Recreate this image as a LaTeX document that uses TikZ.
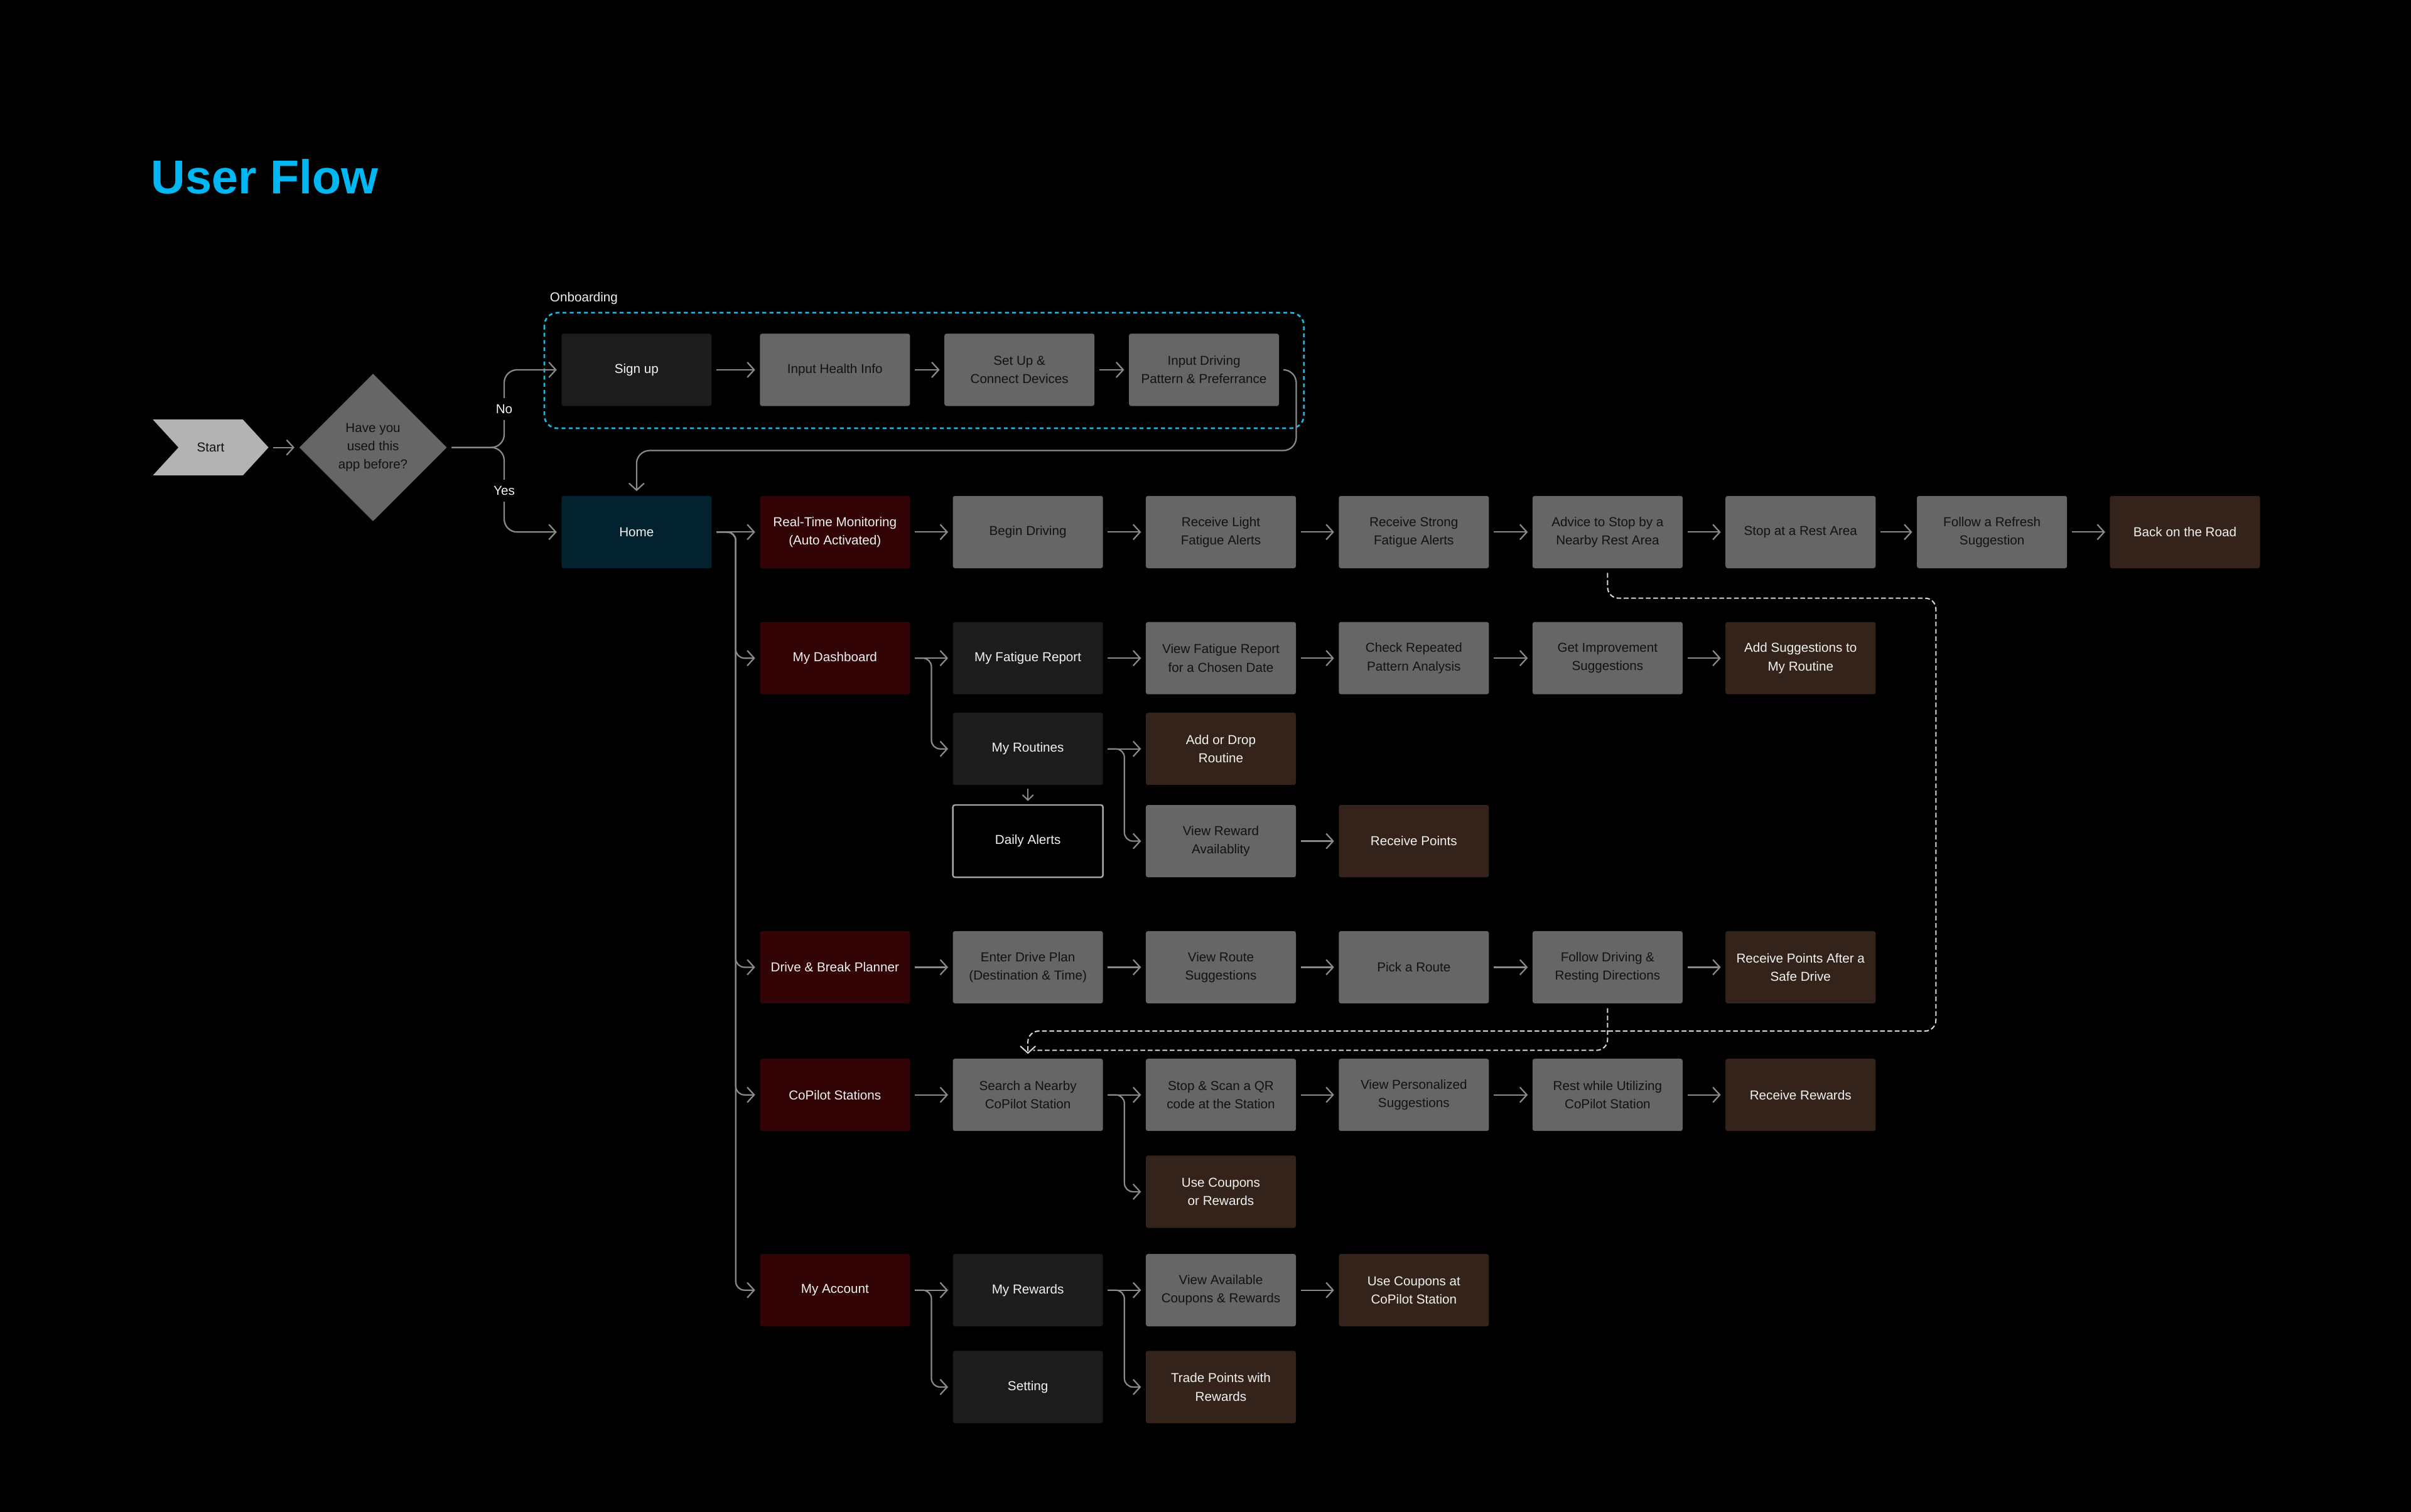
\documentclass[tikz,border=0pt]{standalone}
\usepackage{fontspec}
\setmainfont{Liberation Sans}
\usetikzlibrary{arrows.meta,shapes.geometric,shapes.symbols,calc}
\definecolor{cgray}{HTML}{666666}
\definecolor{cdark}{HTML}{1C1C1C}
\definecolor{cred}{HTML}{320406}
\definecolor{cbrown}{HTML}{33231A}
\definecolor{chome}{HTML}{01222E}
\definecolor{cline}{HTML}{8A8A8A}
\definecolor{ctd}{HTML}{121212}
\definecolor{ctw}{HTML}{F2F2F2}
\definecolor{ccyan}{HTML}{1BB6E8}
\definecolor{ctitle}{HTML}{00B7F4}
\definecolor{cdash}{HTML}{D6D6D6}
\definecolor{cstart}{HTML}{B3B3B3}
\definecolor{cborder}{HTML}{A6A6A6}
\newcommand\boxfnt{\fontsize{6pt}{8.5pt}\selectfont}
\begin{document}
\begin{tikzpicture}[x=0.025cm,y=-0.025cm,
  box/.style={rectangle, rounded corners=1pt, minimum width=2.44cm, minimum height=1.175cm, inner sep=1pt, align=center, font=\boxfnt},
  gb/.style={box, fill=cgray, text=ctd},
  db/.style={box, fill=cdark, text=ctw},
  rb/.style={box, fill=cred, text=ctw},
  bb/.style={box, fill=cbrown, text=ctw},
  hb/.style={box, fill=chome, text=ctw},
  ab/.style={box, fill=black, draw=cborder, line width=0.7pt, text=ctw},
  conn/.style={draw=cline, line width=0.65pt, -{Straight Barb[length=3.2pt,width=7pt]}, shorten <=2pt, shorten >=2pt},
  branch/.style={conn, rounded corners=4pt},
  smallconn/.style={draw=cline, line width=0.6pt, -{Straight Barb[length=2.4pt,width=5pt]}, shorten <=1.5pt, shorten >=1.5pt},
  dl/.style={draw=cdash, line width=0.6pt, dash pattern=on 2.2pt off 1.2pt, rounded corners=5pt},
  lbl/.style={font=\boxfnt, text=ctw, inner sep=1pt}
]
\useasboundingbox (0,0) rectangle (1568,983);
\fill[black] (-10,-10) rectangle (1578,993);

% title
\node[anchor=base west, inner sep=0pt, text=ctitle, font=\fontsize{22pt}{26pt}\selectfont\bfseries] (title) at (98,126) {User Flow};

% start and decision
\node[signal, signal to=east, signal from=west, signal pointer angle=95, fill=cstart, text=ctd,
      minimum width=1.88cm, minimum height=0.91cm, inner sep=0pt, font=\boxfnt] (start) at (137,291) {Start};
\node[diamond, aspect=1, fill=cgray, text=ctd, minimum width=2.4cm, minimum height=2.4cm, inner sep=0pt,
      align=center, font=\boxfnt] (q) at (242.6,291) {Have you\\used this\\app before?};

% onboarding
\draw[ccyan, line width=0.8pt, dash pattern=on 1.8pt off 1.5pt, rounded corners=6pt] (354,203.4) rectangle (848,278.5);
\node[lbl, anchor=west] (obl) at (356,194) {Onboarding};
\node[db] (su) at (414,240.5) {Sign up};
\node[gb] (ih) at (543,240.5) {Input Health Info};
\node[gb] (sdv) at (663,240.5) {Set Up \&\\Connect Devices};
\node[gb] (idp) at (783,240.5) {Input Driving\\Pattern \& Preferrance};

% row: home
\node[hb] (home) at (414,346) {Home};
\node[rb] (rt) at (543,346) {Real-Time Monitoring\\(Auto Activated)};
\node[gb] (bd) at (668.5,346) {Begin Driving};
\node[gb] (rl) at (794,346) {Receive Light\\Fatigue Alerts};
\node[gb] (rs) at (919.5,346) {Receive Strong\\Fatigue Alerts};
\node[gb] (adv) at (1045.5,346) {Advice to Stop by a\\Nearby Rest Area};
\node[gb] (sra) at (1171,346) {Stop at a Rest Area};
\node[gb] (frs) at (1295.5,346) {Follow a Refresh\\Suggestion};
\node[bb] (bor) at (1421,346) {Back on the Road};

% row: dashboard
\node[rb] (md) at (543,428) {My Dashboard};
\node[db] (mfr) at (668.5,428) {My Fatigue Report};
\node[gb] (vfr) at (794,428) {View Fatigue Report\\for a Chosen Date};
\node[gb] (crp) at (919.5,428) {Check Repeated\\Pattern Analysis};
\node[gb] (gis) at (1045.5,428) {Get Improvement\\Suggestions};
\node[bb] (asr) at (1171,428) {Add Suggestions to\\My Routine};

\node[db] (mrt) at (668.5,487) {My Routines};
\node[bb] (adr) at (794,487) {Add or Drop\\Routine};

\node[ab] (da) at (668.5,547) {Daily Alerts};
\node[gb] (vra) at (794,547) {View Reward\\Availablity};
\node[bb] (rp) at (919.5,547) {Receive Points};

% row: planner
\node[rb] (dbp) at (543,629) {Drive \& Break Planner};
\node[gb] (edp) at (668.5,629) {Enter Drive Plan\\(Destination \& Time)};
\node[gb] (vrs) at (794,629) {View Route\\Suggestions};
\node[gb] (par) at (919.5,629) {Pick a Route};
\node[gb] (fdr) at (1045.5,629) {Follow Driving \&\\Resting Directions};
\node[bb] (rpa) at (1171,629) {Receive Points After a\\Safe Drive};

% row: copilot
\node[rb] (cps) at (543,712) {CoPilot Stations};
\node[gb] (snc) at (668.5,712) {Search a Nearby\\CoPilot Station};
\node[gb] (ssq) at (794,712) {Stop \& Scan a QR\\code at the Station};
\node[gb] (vps) at (919.5,712) {View Personalized\\Suggestions};
\node[gb] (rwu) at (1045.5,712) {Rest while Utilizing\\CoPilot Station};
\node[bb] (rr) at (1171,712) {Receive Rewards};
\node[bb] (ucr) at (794,775) {Use Coupons\\or Rewards};

% row: account
\node[rb] (ma) at (543,839) {My Account};
\node[db] (mrw) at (668.5,839) {My Rewards};
\node[gb] (vac) at (794,839) {View Available\\Coupons \& Rewards};
\node[bb] (ucc) at (919.5,839) {Use Coupons at\\CoPilot Station};
\node[db] (set) at (668.5,902) {Setting};
\node[bb] (tpr) at (794,902) {Trade Points with\\Rewards};

% straight connectors
\draw[conn] (start.east) -- (q.west);
\foreach \a/\b in {su/ih, ih/sdv, sdv/idp, home/rt, rt/bd, bd/rl, rl/rs, rs/adv, adv/sra, sra/frs, frs/bor,
  md/mfr, mfr/vfr, vfr/crp, crp/gis, gis/asr, mrt/adr, vra/rp,
  dbp/edp, edp/vrs, vrs/par, par/fdr, fdr/rpa,
  cps/snc, snc/ssq, ssq/vps, vps/rwu, rwu/rr,
  ma/mrw, mrw/vac, vac/ucc}
  \draw[conn] (\a.east) -- (\b.west);
\draw[smallconn] (mrt.south) -- (da.north);

% decision branches
\coordinate (qx) at ($(q.east)!.5!(su.west)$);
\draw[branch, rounded corners=6pt] (q.east) -- (q.east -| qx) |- (su.west);
\draw[branch, rounded corners=6pt] (q.east) -- (q.east -| qx) |- (home.west);
\node[lbl, fill=black, inner ysep=3pt] (lno) at (327.9,266) {No};
\node[lbl, fill=black, inner ysep=3pt] (lyes) at (327.9,319) {Yes};

% onboarding back to home
\coordinate (ob) at (843,293);
\draw[branch, rounded corners=6pt] (idp.east) -| (ob) -| (home.north);

% home trunk
\coordinate (hx) at ($(home.east)!.5!(rt.west)$);
\foreach \t in {md, dbp, cps, ma}
  \draw[branch] (home.east) -- (hx) |- (\t.west);

% sub branches
\coordinate (dx) at ($(md.east)!.5!(mfr.west)$);
\draw[branch] (md.east) -- (dx) |- (mrt.west);
\coordinate (rx) at ($(mrt.east)!.5!(adr.west)$);
\draw[branch] (mrt.east) -- (rx) |- (vra.west);
\coordinate (sx) at ($(snc.east)!.5!(ssq.west)$);
\draw[branch] (snc.east) -- (sx) |- (ucr.west);
\coordinate (ax) at ($(ma.east)!.5!(mrw.west)$);
\draw[branch] (ma.east) -- (ax) |- (set.west);
\coordinate (wx) at ($(mrw.east)!.5!(vac.west)$);
\draw[branch] (mrw.east) -- (wx) |- (tpr.west);

% dashed loops
\coordinate (l1) at (1259,389);
\coordinate (l2) at (1259,670.5);
\draw[dl, -{Straight Barb[length=3.2pt,width=7pt]}, shorten <=2pt, shorten >=2pt] (adv.south) |- (l1) -- (l2) -| (snc.north);
\coordinate (l3) at (672,683);
\draw[dl, shorten <=2pt] (fdr.south) |- (l3);
\end{tikzpicture}
\end{document}
